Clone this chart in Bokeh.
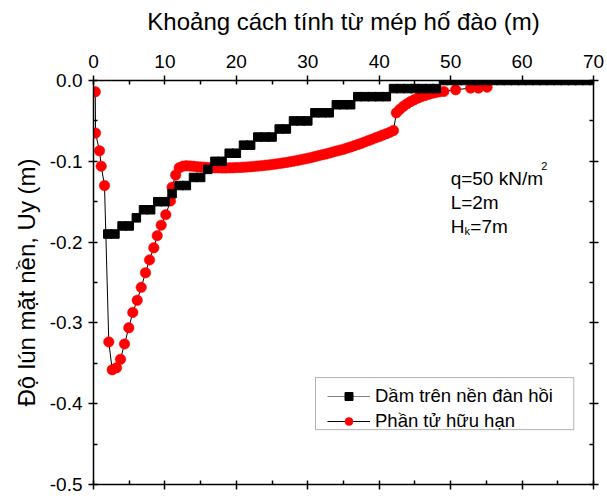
from bokeh.plotting import figure
from bokeh.models import (Range1d, LinearAxis, SingleIntervalTicker, PrintfTickFormatter,
                          CustomJSTickFormatter, Legend, LegendItem, Label, BoxAnnotation)
from bokeh.embed import file_html
from bokeh.resources import INLINE

# ---- data: beam on elastic foundation (black squares)
beam_x = [2, 3, 4, 5, 6, 7, 8, 9, 10, 11, 12, 13, 14, 15, 16, 17, 18, 19, 20, 21, 22, 23, 24,
          25, 26, 27, 28, 29, 30, 31, 32, 33, 34, 35, 36, 37, 38, 39, 40, 41, 42, 43, 44, 45,
          46, 47, 48, 49, 50, 51, 52, 53, 54, 55, 56, 57, 58, 59, 60, 61, 62, 63, 64, 65, 66,
          67, 68, 69, 70]
beam_y = [-0.19, -0.19, -0.18, -0.18, -0.17, -0.16, -0.16, -0.15, -0.15, -0.14, -0.13, -0.13,
          -0.12, -0.12, -0.11, -0.10, -0.10, -0.09, -0.09, -0.08, -0.08, -0.07, -0.07, -0.07,
          -0.06, -0.06, -0.05, -0.05, -0.05, -0.04, -0.04, -0.04, -0.03, -0.03, -0.03,
          -0.02, -0.02, -0.02, -0.02, -0.02,
          -0.01, -0.01, -0.01, -0.01, -0.01, -0.01, -0.01,
          0.0, 0.0, 0.0, 0.0, 0.0, 0.0, 0.0, 0.0, 0.0, 0.0, 0.0, 0.0, 0.0, 0.0, 0.0, 0.0,
          0.0, 0.0, 0.0, 0.0, 0.0, 0.0]

# ---- data: finite element (red circles)
fem_x = [0.25, 0.28, 0.84, 1.08, 1.54, 2.14, 2.62, 3.22, 3.78, 4.34, 4.94, 5.50, 6.12, 6.68,
         7.28, 7.84, 8.44, 8.92, 9.48, 10.12, 10.78, 11.0, 11.5,
         12.0, 12.5, 13.0, 13.5, 14.0, 14.5, 15.0, 15.5, 16.0, 16.5, 17.0, 17.5, 18.0, 18.5,
         19.0, 19.5, 20.0, 20.5, 21.0, 21.5, 22.0, 22.5, 23.0, 23.5, 24.0, 24.5, 25.0, 25.5,
         26.0, 26.5, 27.0, 27.5, 28.0, 28.5, 29.0, 29.5, 30.0, 30.5, 31.0, 31.5, 32.0, 32.5,
         33.0, 33.5, 34.0, 34.5, 35.0, 35.5, 36.0, 36.5, 37.0, 37.5, 38.0, 38.5, 39.0, 39.5,
         40.0, 40.5, 41.0, 41.5, 42.0,
         42.4, 42.9, 43.4, 43.9, 44.4, 44.9, 45.4, 45.9, 46.4, 46.9, 47.4, 47.9, 48.4,
         49.05, 50.7, 52.8, 53.9, 55.1]
fem_y = [-0.014, -0.065, -0.087, -0.106, -0.130, -0.3235, -0.358, -0.3555, -0.345, -0.326,
         -0.306, -0.287, -0.272, -0.256, -0.238, -0.222, -0.207, -0.192, -0.179, -0.166,
         -0.149, -0.132, -0.117,
         -0.1080, -0.1060, -0.1055, -0.1058, -0.1062, -0.1066, -0.1070, -0.1073, -0.1076,
         -0.1078, -0.1080, -0.1081, -0.1082, -0.1082, -0.1081, -0.1080, -0.1078, -0.1076,
         -0.1073, -0.1070, -0.1067, -0.1063, -0.1059, -0.1055, -0.1050, -0.1045, -0.1040,
         -0.1034, -0.1028, -0.1021, -0.1014, -0.1006, -0.0998, -0.0990, -0.0981, -0.0972,
         -0.0962, -0.0952, -0.0941, -0.0930, -0.0920, -0.0909, -0.0898, -0.0886, -0.0874,
         -0.0862, -0.0850, -0.0836, -0.0822, -0.0807, -0.0792, -0.0776, -0.0760, -0.0743,
         -0.0726, -0.0709, -0.0692, -0.0675, -0.0658, -0.0640, -0.0618,
         -0.0400, -0.0355, -0.0318, -0.0287, -0.0260, -0.0238, -0.0218, -0.0200, -0.0185,
         -0.0170, -0.0158, -0.0148, -0.0140,
         -0.0135, -0.0114, -0.0094, -0.0094, -0.0082]

series_labels = ["Dầm trên nền đàn hồi", "Phần tử hữu hạn"]
x_title = "Khoảng cách tính từ mép hố đào (m)"
y_title = "Độ lún mặt nền, Uy (m)"

FONT = "Liberation Sans"

p = figure(frame_width=500, frame_height=404,
           min_border_left=93, min_border_top=80, min_border_right=14, min_border_bottom=12,
           x_range=Range1d(0, 70), y_range=Range1d(-0.5, 0),
           x_axis_location="above", y_axis_location="left",
           output_backend="svg", toolbar_location=None)
p.xgrid.visible = False
p.ygrid.visible = False
p.outline_line_color = None
p.background_fill_color = "white"
p.border_fill_color = "white"

xt = SingleIntervalTicker(interval=10, num_minor_ticks=2)
yt = SingleIntervalTicker(interval=0.1, num_minor_ticks=2)


def style_axis(ax, labels=True):
    ax.axis_line_color = "black"
    ax.axis_line_width = 1.5
    ax.major_tick_line_color = "black"
    ax.major_tick_line_width = 1.5
    ax.minor_tick_line_color = "black"
    ax.minor_tick_line_width = 1.5
    ax.major_tick_out = 5
    ax.major_tick_in = 0
    ax.minor_tick_out = 0
    ax.minor_tick_in = 4
    ax.major_label_text_font = FONT
    ax.major_label_text_color = "black"
    ax.major_label_text_font_size = "19px" if labels else "1px"
    ax.axis_label_text_font = FONT
    ax.axis_label_text_font_style = "normal"
    ax.axis_label_text_color = "black"
    ax.axis_label_text_font_size = "24px"
    if not labels:
        ax.major_label_standoff = 0
        ax.formatter = CustomJSTickFormatter(code="return ''")


top = p.xaxis[0]
top.ticker = xt
top.axis_label = x_title
style_axis(top)
top.major_label_standoff = 8
top.axis_label_standoff = 17

left = p.yaxis[0]
left.ticker = yt
left.formatter = PrintfTickFormatter(format="%.1f")
left.axis_label = y_title
style_axis(left)
left.major_label_standoff = 6
left.axis_label_standoff = 7

bottom = LinearAxis(ticker=xt)
style_axis(bottom, labels=False)
p.add_layout(bottom, "below")
right = LinearAxis(ticker=yt)
style_axis(right, labels=False)
p.add_layout(right, "right")

# ---- series (red first, black squares on top)
r_fem_line = p.line(fem_x, fem_y, line_color="black", line_width=1)
r_fem_pts = p.scatter(fem_x, fem_y, marker="circle", size=10.5, fill_color="red",
                      line_color="red", line_width=0.5)
r_beam_line = p.line(beam_x, beam_y, line_color="#808080", line_width=1)
r_beam_pts = p.scatter(beam_x, beam_y, marker="square", size=8.5, fill_color="black",
                       line_color="black")

# ---- legend box and legend
box = BoxAnnotation(left=31.08, right=67.24, top=-0.3677, bottom=-0.4321,
                    fill_color="white", fill_alpha=1.0, line_color="black", line_width=1)
p.add_layout(box)

legend = Legend(items=[LegendItem(label=series_labels[0], renderers=[r_beam_line, r_beam_pts]),
                       LegendItem(label=series_labels[1], renderers=[r_fem_line, r_fem_pts])],
                location=(234, 52), orientation="vertical",
                glyph_width=43, glyph_height=20, label_height=20, spacing=3,
                padding=5, margin=0, label_standoff=5,
                label_text_font=FONT, label_text_font_size="18.5px", label_text_color="black",
                border_line_color=None, background_fill_alpha=0)
p.add_layout(legend)

# ---- annotation text
def lab(x, y, t, size):
    p.add_layout(Label(x=x, y=y, text=t, text_font=FONT, text_font_size=size,
                       text_color="black", text_baseline="alphabetic", text_align="left"))

lab(50.0, -0.1216, "q=50 kN/m", "19px")
lab(62.7, -0.1058, "2", "11px")
lab(50.0, -0.1515, "L=2m", "19px")
lab(50.0, -0.1810, "H", "19px")
lab(51.95, -0.1865, "k", "11px")
lab(52.75, -0.1810, "=7m", "19px")

open("out.html", "w").write(file_html(p, INLINE))
